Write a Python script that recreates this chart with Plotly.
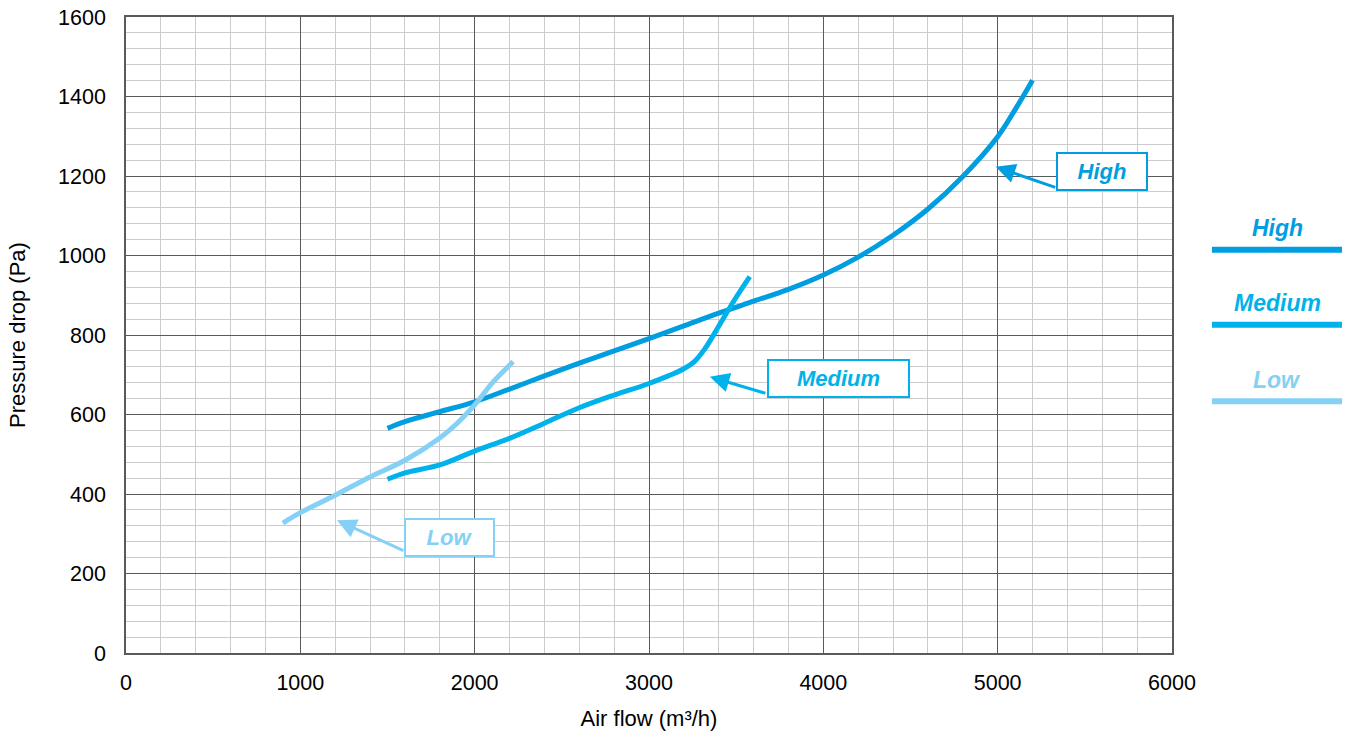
import plotly.graph_objects as go

# Data
high_x = [1500, 1600, 1800, 2000, 2200, 2400, 2600, 2800, 3000, 3200, 3400, 3600, 3800, 4000, 4200, 4400, 4600, 4800, 5000, 5100, 5200]
high_y = [565, 582, 607, 632, 664, 697, 729, 760, 791, 823, 855, 885, 915, 951, 996, 1051, 1117, 1199, 1299, 1367, 1441]

med_x = [1500, 1600, 1800, 2000, 2200, 2400, 2600, 2800, 3000, 3200, 3260, 3320, 3400, 3490, 3578]
med_y = [437, 453, 473, 508, 540, 578, 617, 649, 678, 715, 733, 765, 822, 888, 947]

low_x = [900, 1000, 1200, 1400, 1600, 1800, 1900, 2000, 2100, 2221]
low_y = [327, 353, 397, 443, 485, 541, 578, 624, 679, 733]

series_names = ["High", "Medium", "Low"]
colors = ["#009EE0", "#00B2EB", "#85D0F5"]

x_ticks = [0, 1000, 2000, 3000, 4000, 5000, 6000]
y_ticks = [0, 200, 400, 600, 800, 1000, 1200, 1400, 1600]

# annotation anchors (data coords): box centres and arrow tips
box_x = [5596, 4085, 1858]
box_y = [1211, 690, 290]
box_w = [86, 137, 85]
tip_x = [4989, 3349, 1210]
tip_y = [1223, 695, 334]
tail_dx = [61, 57, 68]
tail_dy = [21, 17, 31]

FONT = "Liberation Sans, Arial, Helvetica"

fig = go.Figure()
for xs, ys, name, c in zip([high_x, med_x, low_x], [high_y, med_y, low_y], series_names, colors):
    fig.add_trace(go.Scatter(x=xs, y=ys, mode="lines", name=name,
                             line=dict(color=c, width=5, shape="spline", smoothing=1.0),
                             showlegend=False, hoverinfo="x+y"))

anns = []
for i, name in enumerate(series_names):
    anns.append(dict(x=tip_x[i], y=tip_y[i], xref="x", yref="y", text="",
                     showarrow=True, ax=tail_dx[i], ay=tail_dy[i], axref="pixel", ayref="pixel",
                     arrowhead=2, arrowsize=1.3, arrowwidth=3, arrowcolor=colors[i]))
    anns.append(dict(x=box_x[i], y=box_y[i], xref="x", yref="y",
                     text="<b><i>%s</i></b>" % name, showarrow=False,
                     font=dict(family=FONT, size=22, color=colors[i]),
                     bgcolor="white", bordercolor=colors[i], borderwidth=2,
                     width=box_w[i], height=33, align="center"))

# right-side legend
leg_text_y = [0.6686, 0.5505, 0.4291]
leg_line_y = [0.634, 0.516, 0.396]
shapes = []
for i, name in enumerate(series_names):
    anns.append(dict(x=1.1004, y=leg_text_y[i], xref="paper", yref="paper",
                     text="<b><i>%s</i></b>" % name, showarrow=False,
                     font=dict(family=FONT, size=23, color=colors[i]),
                     xanchor="center", yanchor="middle"))
    shapes.append(dict(type="line", xref="paper", yref="paper", x0=1.0382, x1=1.1625,
                       y0=leg_line_y[i], y1=leg_line_y[i],
                       line=dict(color=colors[i], width=6)))

fig.update_layout(
    width=1345, height=740,
    margin=dict(l=126, r=173, t=17, b=87, autoexpand=False),
    plot_bgcolor="white", paper_bgcolor="white",
    font=dict(family=FONT, size=21.5, color="black"),
    annotations=anns, shapes=shapes,
    xaxis=dict(range=[0, 6000], tickvals=x_ticks, showgrid=True, gridcolor="#5a5a5a", gridwidth=1,
               minor=dict(dtick=200, showgrid=True, gridcolor="#cccccc", gridwidth=1),
               showline=True, linecolor="#5a5a5a", linewidth=1.5, mirror=True,
               zeroline=False, ticks="", ticklabelstandoff=9, automargin=False,
               title=dict(text="Air flow (m³/h)", font=dict(size=22), standoff=17)),
    yaxis=dict(range=[0, 1600], tickvals=y_ticks, showgrid=True, gridcolor="#5a5a5a", gridwidth=1,
               minor=dict(dtick=40, showgrid=True, gridcolor="#cccccc", gridwidth=1),
               showline=True, linecolor="#5a5a5a", linewidth=1.5, mirror=True,
               zeroline=False, ticks="", ticklabelstandoff=14, ticklabeloverflow="allow", automargin=False,
               title=dict(text="Pressure drop (Pa)", font=dict(size=22), standoff=26)),
)

fig.write_html("out.html", config={"displayModeBar": False},
               post_script="document.body.style.margin='0';document.body.style.overflow='hidden';")
